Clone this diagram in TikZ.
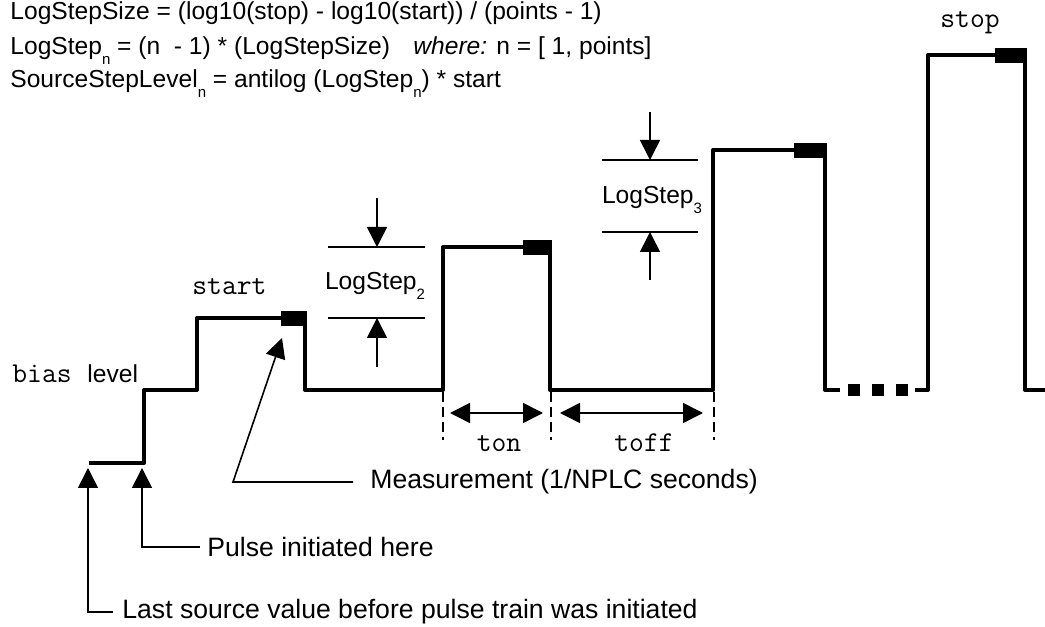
\documentclass[tikz,border=0pt]{standalone}
\usepackage{fontspec}
\setmainfont{Liberation Sans}
\usetikzlibrary{arrows.meta}
\newcommand{\mysub}[1]{\raisebox{-0.4em}{\fontsize{7.5bp}{8bp}\selectfont #1}}
\begin{document}
\begin{tikzpicture}[x=0.5bp,y=-0.5bp,
  wave/.style={line width=2bp, line join=round},
  thinline/.style={line width=0.8bp},
  arr/.style={-{Triangle[length=10bp,width=10bp]}, line width=0.8bp},
  darr/.style={{Triangle[length=10bp,width=10bp]}-{Triangle[length=10bp,width=10bp]}, line width=0.8bp},
  dashline/.style={line width=0.6bp, dash pattern=on 5bp off 2.5bp},
  formula/.style={font=\fontsize{12.3bp}{14bp}\selectfont, inner sep=0pt, anchor=base west},
  steplab/.style={font=\fontsize{12.3bp}{14bp}\selectfont, inner sep=0pt, anchor=base},
  lab/.style={font=\fontsize{13.3bp}{16bp}\selectfont, inner ysep=0pt, anchor=west},
  mono/.style={font=\fontsize{14.4bp}{16bp}\selectfont\ttfamily, inner sep=0pt, anchor=base west},
]
\useasboundingbox (0,0) rectangle (1045,627);

% formulas
\node[formula] (f1) at (10,20) {LogStepSize = (log10(stop) - log10(start)) / (points - 1)};
\node[formula] (f2) at (10,55) {LogStep\mysub{n} = (n \ - 1) * (LogStepSize)};
\node[formula] (f2b) at (413,55) {\textit{where:} n = [ 1, points]};
\node[formula] (f3) at (10,88) {SourceStepLevel\mysub{n} = antilog (LogStep\mysub{n}) * start};

% waveform
\draw[wave] (89,463) -- (144,463) -- (144,390) -- (197,390) -- (197,318) -- (305,318)
  -- (305,390) -- (443,390) -- (443,247) -- (550,247) -- (550,390) -- (713,390)
  -- (713,150) -- (825,150) -- (825,390) -- (840,390);
\draw[wave] (915,390) -- (928,390) -- (928,55) -- (1025,55) -- (1025,390) -- (1045,390);
\fill (848,384) rectangle (860,396);
\fill (872,384) rectangle (884,396);
\fill (896,384) rectangle (908,396);

% measurement blocks
\fill (281,311) rectangle (307,326);
\fill (523,240) rectangle (552,255);
\fill (794,143) rectangle (827,158);
\fill (995,48) rectangle (1027,63);

% level labels
\node[mono] (start) at (192,295) {start};
\node[mono] (stop) at (940,28) {stop};
\node[mono] (bias) at (12,383) {bias};
\node[formula] (level) at (87,383) {level};

% LogStep 2
\draw[thinline] (328,247) -- (425,247);
\draw[thinline] (328,318) -- (425,318);
\coordinate (a2t) at (377,198);
\coordinate (a2b) at (377,367);
\coordinate (a2u) at (377,247);
\coordinate (a2l) at (377,318);
\draw[arr] (a2t) -- (a2u);
\draw[arr] (a2b) -- (a2l);
\node[steplab] (ls2) at (375,290) {LogStep\mysub{2}};

% LogStep 3
\draw[thinline] (602,160) -- (698,160);
\draw[thinline] (602,232) -- (698,232);
\coordinate (a3t) at (650,112);
\coordinate (a3b) at (650,280);
\coordinate (a3u) at (650,160);
\coordinate (a3l) at (650,232);
\draw[arr] (a3t) -- (a3u);
\draw[arr] (a3b) -- (a3l);
\node[steplab] (ls3) at (652,204) {LogStep\mysub{3}};

% ton / toff
\coordinate (d1t) at (443,392); \coordinate (d1b) at (443,440);
\coordinate (d2t) at (551,392); \coordinate (d2b) at (551,440);
\coordinate (d3t) at (714,392); \coordinate (d3b) at (714,440);
\draw[dashline] (d1t) -- (d1b);
\draw[dashline] (d2t) -- (d2b);
\draw[dashline] (d3t) -- (d3b);
\coordinate (ton1) at (450,413); \coordinate (ton2) at (543,413);
\coordinate (toff1) at (560,413); \coordinate (toff2) at (703,413);
\draw[darr] (ton1) -- (ton2);
\draw[darr] (toff1) -- (toff2);
\node[mono, anchor=base] (ton) at (499,452) {ton};
\node[mono, anchor=base] (toff) at (644,452) {toff};

% callouts
\node[lab, inner xsep=8.5bp] (meas) at (353,482) {Measurement (1/NPLC seconds)};
\coordinate (mk) at (233,482);
\coordinate (mtip) at (282,338);
\draw[arr] (meas.west) -- (mk) -- (mtip);

\node[lab, inner xsep=3.5bp] (pulse) at (200,547) {Pulse initiated here};
\coordinate (ptip) at (142,468);
\draw[arr] (pulse.west) -| (ptip);

\node[lab, inner xsep=4.5bp] (last) at (113,612) {Last source value before pulse train was initiated};
\coordinate (ltip) at (88,468);
\draw[arr] (last.west) -| (ltip);
\end{tikzpicture}
\end{document}
